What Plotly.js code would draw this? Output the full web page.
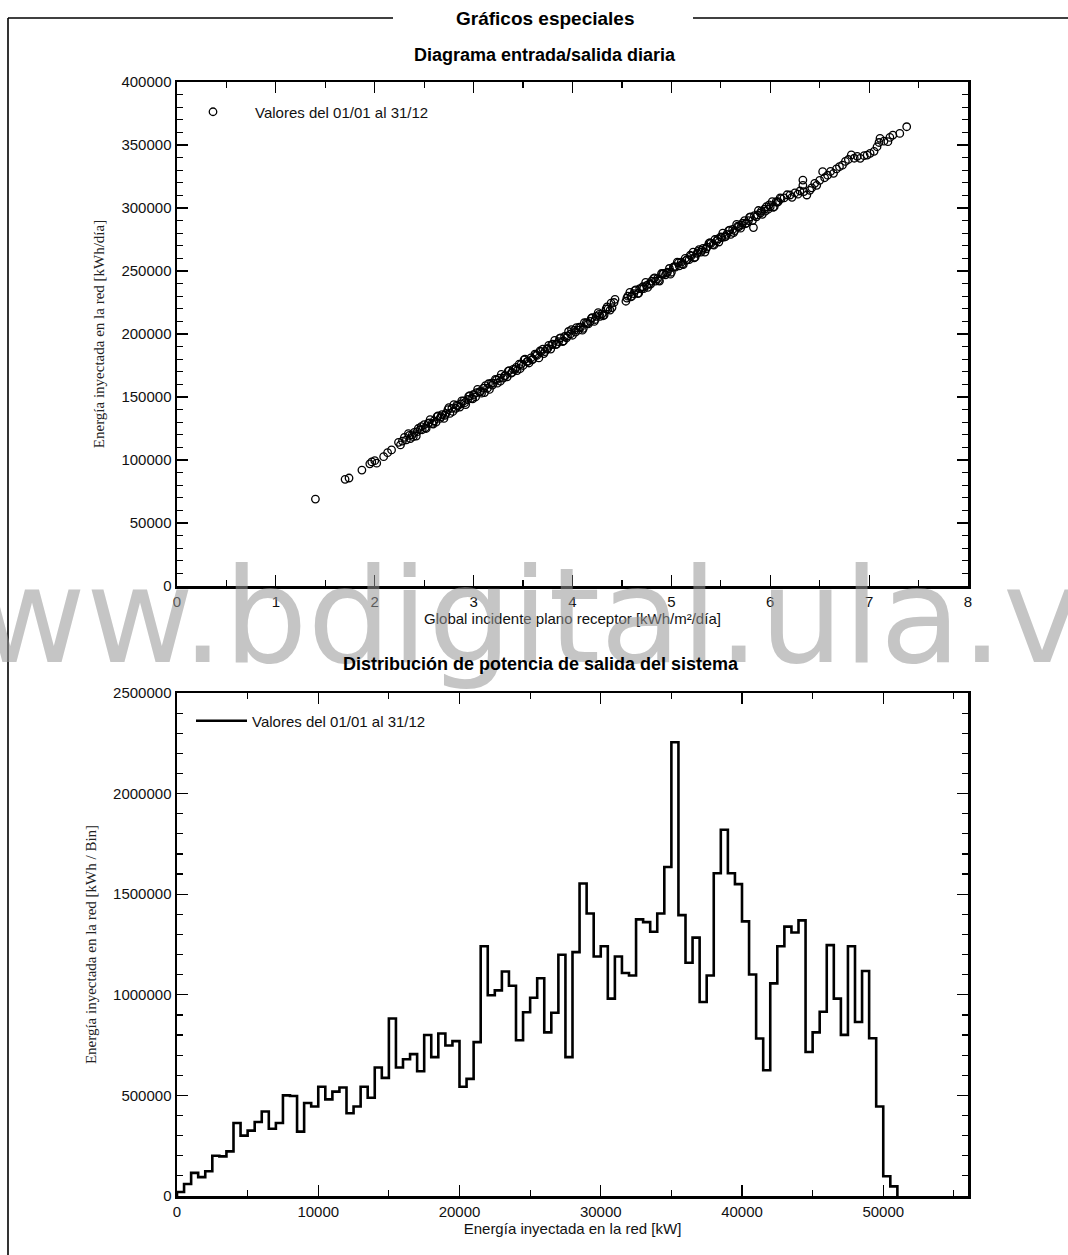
<!DOCTYPE html>
<html>
<head>
<meta charset="utf-8">
<script src="https://cdn.plot.ly/plotly-3.0.1.min.js"></script>
<style>html,body{margin:0;padding:0;background:#fff;}#chart{width:1068px;height:1255px;}</style>
</head>
<body>
<div id="chart"></div>
<script>
// ---------- Top chart: daily input/output diagram ----------
const irrLow = [1.40,1.70,1.74,1.87,1.95,1.97,2.00,2.02,2.09,2.13,2.17];
const energyLow = [69000,84700,85700,92000,97000,98500,99500,97500,102600,105800,108000];

const irrMid = [
2.24,2.26,2.28,2.30,2.32,2.34,2.36,2.38,2.40,2.42,
2.44,2.46,2.48,2.50,2.52,2.54,2.56,2.58,2.60,2.62,
2.64,2.66,2.68,2.70,2.72,2.74,2.76,2.78,2.80,2.82,
2.84,2.86,2.88,2.90,2.92,2.94,2.96,2.98,3.00,3.02,
3.04,3.06,3.08,3.10,3.12,3.14,3.16,3.18,3.20,3.22,
3.24,3.26,3.28,3.30,3.32,3.34,3.36,3.38,3.40,3.42,
3.44,3.46,3.48,3.50,3.52,3.54,3.56,3.58,3.60,3.62,
3.64,3.66,3.68,3.70,3.72,3.74,3.76,3.78,3.80,3.82,
3.84,3.86,3.88,3.90,3.92,3.94,3.96,3.98,4.00,4.02,
4.04,4.06,4.08,4.10,4.12,4.14,4.16,4.18,4.20,4.22,
4.24,4.26,4.28,4.30,4.32,4.34,4.36,4.38,4.40,4.42,
4.54,4.56,4.58,4.60,4.62,4.64,4.66,4.68,4.70,4.72,
4.74,4.76,4.78,4.80,4.82,4.84,4.86,4.88,4.90,4.92,
4.94,4.96,4.98,5.00,5.02,5.04,5.06,5.08,5.10,5.12,
5.14,5.16,5.18,5.20,5.22,5.24,5.26,5.28,5.30,5.32,
5.34,5.36,5.38,5.40,5.42,5.44,5.46,5.48,5.50,5.52,
5.54,5.56,5.58,5.60,5.62,5.64,5.66,5.68,5.70,5.72,
5.74,5.76,5.78,5.80,5.82,5.84,5.86,5.88,5.90,5.92,
5.94,5.96,5.98,6.00,6.02,6.04,6.06,6.08,6.10];
const energyMid = [
114000,112000,115000,118000,116000,121000,117000,120000,122000,119000,
125000,124000,124000,128000,125000,129000,132000,129000,131000,130000,
135000,133000,136000,133000,137000,140000,137000,141000,144000,141000,
143000,142000,147000,147000,144000,148000,151000,149000,152000,150000,
156000,154000,153000,157000,159000,157000,156000,161000,161000,164000,
161000,165000,168000,165000,167000,166000,171000,169000,172000,172000,
171000,176000,176000,175000,180000,178000,177000,181000,180000,184000,
183000,181000,186000,188000,186000,188000,191000,188000,192000,195000,
192000,194000,197000,194000,198000,197000,202000,200000,199000,203000,
205000,203000,205000,203000,209000,209000,208000,210000,213000,210000,
214000,217000,214000,216000,215000,220000,220000,219000,221000,225000,
226000,230000,233000,230000,232000,235000,232000,236000,236000,236000,
241000,237000,240000,242000,244000,242000,244000,242000,248000,248000,
247000,249000,252000,249000,253000,253000,257000,254000,257000,255000,
260000,259000,259000,262000,265000,261000,264000,267000,265000,268000,
265000,269000,272000,272000,271000,275000,274000,273000,277000,280000,
277000,279000,282000,279000,283000,282000,287000,285000,284000,288000,
290000,288000,290000,293000,290000,294000,293000,298000,296000,295000,
299000,301000,299000,301000,305000,301000,305000,305000,308000];

const irrMid2 = [
2.35,2.39,2.43,2.47,2.51,2.55,2.59,2.63,2.67,2.71,
2.75,2.79,2.83,2.87,2.91,2.95,2.99,3.03,3.07,3.11,
3.15,3.19,3.23,3.27,3.31,3.35,3.39,3.43,3.47,3.51,
3.55,3.59,3.63,3.67,3.71,3.75,3.79,3.83,3.87,3.91,
3.95,3.99,4.03,4.07,4.11,4.15,4.19,4.23,4.27,4.31,
4.35,4.39,4.43,
4.55,4.59,4.63,4.67,4.71,4.75,4.79,
4.83,4.87,4.91,4.95,4.99,5.03,5.07,5.11,5.15,5.19,
5.23,5.27,5.31,5.35,5.39,5.43,5.47,5.51,5.55,5.59,
5.63,5.67,5.71,5.75,5.79,5.83,5.87,5.91,5.95,5.99,
6.03,6.07,6.11];
const energyMid2 = [
119500,118500,122500,126500,125500,129500,128500,134500,134500,135500,
141500,138500,143500,144500,145500,150500,148500,153500,154500,153500,
160500,159500,163500,162500,166500,170500,169500,173500,172500,179500,
178500,179500,183500,186500,184500,188500,191500,191500,196500,194500,
198500,203500,201500,205500,204500,208500,212500,211500,215500,214500,
221500,224500,227500,
228500,229500,234500,232500,237500,238500,239500,
244500,242500,247500,248500,247500,253500,256500,255500,258500,262500,
260500,265500,266500,267500,272500,270500,275500,276500,277500,282500,
280500,285500,286500,287500,292500,284500,294500,297500,297500,302500,
300500,304500,307500];

const irrHigh = [
6.14,6.17,6.20,6.22,6.25,6.28,6.30,6.33,6.33,6.34,
6.37,6.40,6.42,6.45,6.47,6.50,6.53,6.55,6.58,6.61,
6.64,6.67,6.70,6.73,6.76,6.79,6.82,6.85,6.88,6.91,
6.95,6.98,7.01,7.05,7.08,7.10,7.11,7.15,7.19,7.21,
7.24,7.31,7.38];
const energyHigh = [
308000,310500,310300,308500,312000,311000,313500,322200,318000,313000,
310300,314000,316000,319600,318000,322000,328800,324000,326000,329000,
327500,331000,332800,334000,337000,338500,342100,339500,341000,339400,
341500,342000,343400,345000,348600,352000,355300,353000,352600,356000,
357900,359200,364500];

// ---------- Bottom chart: output power distribution ----------
const powerBins = [
0,500,1000,1500,2000,2500,3000,3500,4000,4500,
5000,5500,6000,6500,7000,7500,8000,8500,9000,9500,
10000,10500,11000,11500,12000,12500,13000,13500,14000,14500,
15000,15500,16000,16500,17000,17500,18000,18500,19000,19500,
20000,20500,21000,21500,22000,22500,23000,23500,24000,24500,
25000,25500,26000,26500,27000,27500,28000,28500,29000,29500,
30000,30500,31000,31500,32000,32500,33000,33500,34000,34500,
35000,35500,36000,36500,37000,37500,38000,38500,39000,39500,
40000,40500,41000,41500,42000,42500,43000,43500,44000,44500,
45000,45500,46000,46500,47000,47500,48000,48500,49000,49500,
50000,50500,51000];
const binEnergy = [
20000,60000,115000,94000,123000,200000,197000,222000,363000,300000,
325000,368000,420000,334000,363000,500000,497000,320000,462000,445000,
543000,480000,519000,539000,411000,445000,543000,488000,639000,587000,
882000,639000,680000,705000,620000,800000,690000,808000,748000,770000,
543000,582000,765000,1241000,998000,1022000,1116000,1045000,774000,913000,
985000,1082000,813000,911000,1199000,690000,1212000,1553000,1404000,1190000,
1241000,981000,1190000,1108000,1096000,1375000,1361000,1313000,1404000,1635000,
2255000,1396000,1159000,1284000,964000,1096000,1604000,1820000,1604000,1550000,
1365000,1101000,783000,625000,1057000,1241000,1339000,1310000,1370000,716000,
813000,916000,1247000,981000,801000,1241000,865000,1118000,784000,445000,
98000,48000,0];

const legendLabel = 'Valores del 01/01 al 31/12';
const pageTitle = 'Gráficos especiales';
const title1 = 'Diagrama entrada/salida diaria';
const title2 = 'Distribución de potencia de salida del sistema';
const xTitle1 = 'Global incidente plano receptor [kWh/m²/día]';
const yTitle1 = 'Energía inyectada en la red [kWh/día]';
const xTitle2 = 'Energía inyectada en la red [kW]';
const yTitle2 = 'Energía inyectada en la red [kWh / Bin]';
const watermark = 'www.bdigital.ula.ve';

// ---------- Figure ----------
const W = 1068, H = 1255;
const px = v => v / W;
const py = v => 1 - v / H;

const scatter = {
  x: irrLow.concat(irrMid, irrMid2, irrHigh),
  y: energyLow.concat(energyMid, energyMid2, energyHigh),
  type: 'scatter', mode: 'markers', name: legendLabel,
  marker: {symbol: 'circle-open', size: 7.5, color: '#000', line: {width: 1.3, color: '#000'}},
  xaxis: 'x', yaxis: 'y', legend: 'legend', cliponaxis: false
};
const hist = {
  x: [powerBins[0]].concat(powerBins),
  y: [0].concat(binEnergy),
  type: 'scatter', mode: 'lines', name: legendLabel,
  line: {shape: 'hv', color: '#000', width: 2.6},
  xaxis: 'x2', yaxis: 'y2', legend: 'legend2'
};

const tickFont = {family: 'Liberation Sans, Arial, sans-serif', size: 15, color: '#111'};
const serifTitle = {family: 'Liberation Serif, Times New Roman, serif', size: 15, color: '#222'};
const sansTitle = {family: 'Liberation Sans, Arial, sans-serif', size: 15, color: '#111'};

function axisBase(extra) {
  return Object.assign({
    showline: true, linecolor: '#000', linewidth: 2.5, mirror: 'ticks',
    ticks: 'inside', ticklen: 11, tickwidth: 1.2, tickcolor: '#000',
    showgrid: false, zeroline: false, tickfont: tickFont, fixedrange: true,
    tickformat: 'd'
  }, extra);
}

const layout = {
  width: W, height: H,
  margin: {l: 0, r: 0, t: 0, b: 0},
  paper_bgcolor: '#fff', plot_bgcolor: '#fff',
  font: {family: 'Liberation Sans, Arial, sans-serif', color: '#000'},
  showlegend: true,
  xaxis: axisBase({
    domain: [px(177), px(968)], anchor: 'y', range: [0, 8], tick0: 0, dtick: 1,
    minor: {dtick: 0.5, ticks: 'inside', ticklen: 6, tickwidth: 1.2, tickcolor: '#000'},
    ticklabelstandoff: 0,
    title: {text: xTitle1, font: sansTitle, standoff: 5}
  }),
  yaxis: axisBase({
    domain: [py(586), py(82)], anchor: 'x', range: [0, 400000], tick0: 0, dtick: 50000,
    minor: {dtick: 10000, ticks: 'inside', ticklen: 6, tickwidth: 1.2, tickcolor: '#000'},
    title: {text: yTitle1, font: serifTitle, standoff: 13}
  }),
  xaxis2: axisBase({
    domain: [px(177), px(968)], anchor: 'y2', range: [0, 56000], tick0: 0, dtick: 10000,
    minor: {dtick: 5000, ticks: 'inside', ticklen: 6, tickwidth: 1.2, tickcolor: '#000'},
    ticklabelstandoff: 0,
    title: {text: xTitle2, font: sansTitle, standoff: 5}
  }),
  yaxis2: axisBase({
    domain: [py(1196), py(693)], anchor: 'x2', range: [0, 2500000], tick0: 0, dtick: 500000,
    minor: {dtick: 100000, ticks: 'inside', ticklen: 6, tickwidth: 1.2, tickcolor: '#000'},
    title: {text: yTitle2, font: serifTitle, standoff: 13}
  }),
  legend: {
    x: px(171), y: py(112), xanchor: 'left', yanchor: 'middle',
    bgcolor: 'rgba(0,0,0,0)', borderwidth: 0, itemwidth: 74,
    font: {family: 'Liberation Sans, Arial, sans-serif', size: 15, color: '#111'}
  },
  legend2: {
    x: px(191), y: py(721), xanchor: 'left', yanchor: 'middle',
    bgcolor: 'rgba(0,0,0,0)', borderwidth: 0, itemwidth: 51,
    font: {family: 'Liberation Sans, Arial, sans-serif', size: 15, color: '#111'}
  },
  shapes: [
    {type: 'line', xref: 'paper', yref: 'paper', x0: px(8), x1: px(393), y0: py(18), y1: py(18), line: {color: '#000', width: 1.6}},
    {type: 'line', xref: 'paper', yref: 'paper', x0: px(693), x1: 1, y0: py(18), y1: py(18), line: {color: '#000', width: 1.6}},
    {type: 'line', xref: 'paper', yref: 'paper', x0: px(8), x1: px(8), y0: 0, y1: py(18), line: {color: '#000', width: 1.6}}
  ],
  annotations: [
    {text: watermark, xref: 'paper', yref: 'paper', x: px(-132), y: py(616), xanchor: 'left', yanchor: 'middle',
     showarrow: false, font: {family: 'DejaVu Sans, sans-serif', size: 132, color: 'rgba(150,150,150,0.55)'}},
    {text: '<b>' + pageTitle + '</b>', xref: 'paper', yref: 'paper', x: px(545), y: py(18), xanchor: 'center', yanchor: 'middle',
     showarrow: false, font: {family: 'Liberation Sans, Arial, sans-serif', size: 19, color: '#000'}},
    {text: '<b>' + title1 + '</b>', xref: 'paper', yref: 'paper', x: px(545), y: py(55), xanchor: 'center', yanchor: 'middle',
     showarrow: false, font: {family: 'Liberation Sans, Arial, sans-serif', size: 18, color: '#000'}},
    {text: '<b>' + title2 + '</b>', xref: 'paper', yref: 'paper', x: px(541), y: py(664), xanchor: 'center', yanchor: 'middle',
     showarrow: false, font: {family: 'Liberation Sans, Arial, sans-serif', size: 18, color: '#000'}}
  ]
};

Plotly.newPlot('chart', [scatter, hist], layout, {displayModeBar: false, staticPlot: true});
</script>
</body>
</html>
